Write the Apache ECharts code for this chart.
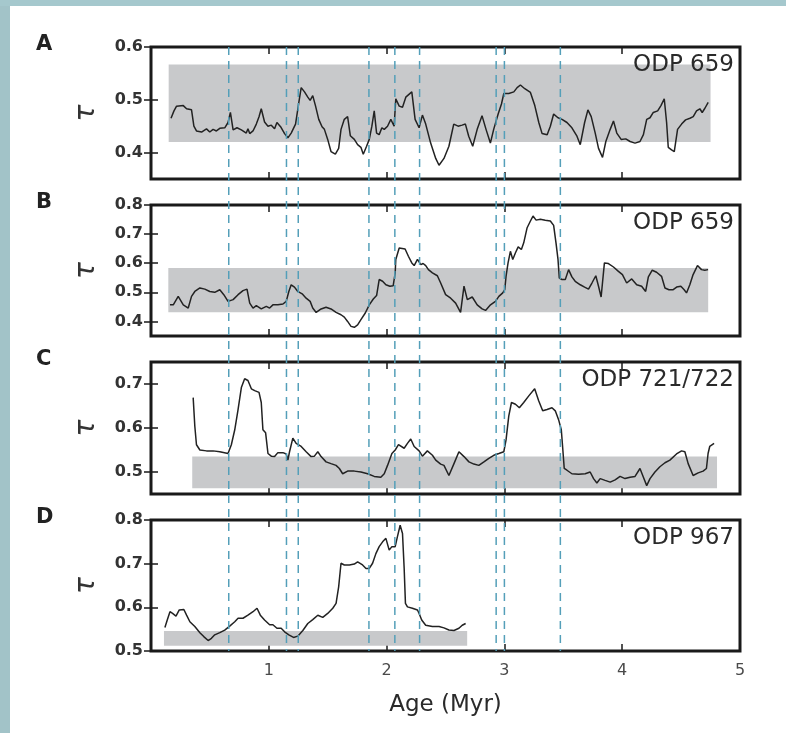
<!DOCTYPE html>
<html>
<head>
<meta charset="utf-8">
<script src="https://cdn.jsdelivr.net/npm/echarts@6/dist/echarts.min.js"></script>
<style>
  html, body { margin: 0; padding: 0; background: #fff; }
  #chart { width: 786px; height: 733px; }
</style>
</head>
<body>
<div id="chart"></div>
<script>
// panel A: ODP 659, age (Myr) / tau
var seriesA = [
  [0.17,0.465],[0.195,0.479],[0.217,0.488],[0.274,0.489],[0.302,0.483],[0.344,0.481],[0.364,0.450],
  [0.386,0.441],[0.429,0.439],[0.471,0.445],[0.499,0.439],[0.527,0.444],[0.555,0.441],[0.584,0.446],
  [0.626,0.447],[0.654,0.457],[0.674,0.476],[0.697,0.443],[0.730,0.447],[0.767,0.443],[0.809,0.437],
  [0.823,0.445],[0.838,0.436],[0.866,0.441],[0.894,0.454],[0.917,0.468],[0.936,0.483],[0.964,0.458],
  [0.993,0.450],[1.021,0.452],[1.049,0.445],[1.069,0.457],[1.100,0.449],[1.134,0.436],[1.162,0.428],
  [1.190,0.437],[1.227,0.454],[1.255,0.495],[1.275,0.523],[1.303,0.515],[1.331,0.505],[1.351,0.499],
  [1.373,0.508],[1.396,0.489],[1.424,0.463],[1.452,0.449],[1.472,0.444],[1.500,0.425],[1.528,0.402],
  [1.565,0.397],[1.593,0.408],[1.613,0.444],[1.641,0.463],[1.669,0.468],[1.692,0.432],[1.726,0.425],
  [1.754,0.415],[1.782,0.410],[1.802,0.397],[1.830,0.412],[1.853,0.425],[1.875,0.450],[1.895,0.479],
  [1.915,0.437],[1.937,0.434],[1.960,0.447],[1.980,0.444],[2.008,0.450],[2.036,0.463],[2.064,0.450],
  [2.078,0.502],[2.107,0.488],[2.135,0.486],[2.163,0.505],[2.214,0.515],[2.242,0.463],[2.276,0.447],
  [2.304,0.471],[2.332,0.454],[2.374,0.418],[2.417,0.389],[2.445,0.376],[2.487,0.389],[2.529,0.412],
  [2.570,0.454],[2.607,0.450],[2.641,0.452],[2.669,0.454],[2.697,0.431],[2.731,0.412],[2.769,0.444],
  [2.810,0.470],[2.844,0.444],[2.881,0.418],[2.909,0.444],[2.947,0.473],[2.975,0.492],[2.995,0.512],
  [3.037,0.512],[3.080,0.515],[3.108,0.523],[3.136,0.528],[3.173,0.521],[3.221,0.514],[3.258,0.489],
  [3.292,0.457],[3.320,0.436],[3.363,0.434],[3.390,0.450],[3.418,0.473],[3.455,0.466],[3.489,0.463],
  [3.531,0.457],[3.573,0.447],[3.616,0.431],[3.644,0.415],[3.681,0.457],[3.709,0.481],[3.737,0.468],
  [3.771,0.437],[3.799,0.408],[3.833,0.391],[3.861,0.421],[3.898,0.444],[3.926,0.460],[3.954,0.437],
  [3.991,0.425],[4.030,0.426],[4.067,0.421],[4.109,0.418],[4.151,0.421],[4.180,0.434],[4.208,0.463],
  [4.236,0.466],[4.264,0.476],[4.301,0.479],[4.329,0.489],[4.357,0.502],[4.377,0.457],[4.391,0.410],
  [4.419,0.405],[4.442,0.402],[4.470,0.444],[4.504,0.454],[4.538,0.462],[4.575,0.465],[4.603,0.468],
  [4.631,0.479],[4.659,0.483],[4.679,0.476],[4.702,0.484],[4.730,0.495]
];

// panel B: ODP 659
var seriesB = [
  [0.161,0.457],[0.189,0.457],[0.231,0.486],[0.274,0.457],[0.316,0.446],[0.344,0.486],[0.372,0.503],
  [0.415,0.515],[0.457,0.511],[0.499,0.503],[0.541,0.500],[0.584,0.509],[0.618,0.492],[0.654,0.469],
  [0.697,0.475],[0.739,0.492],[0.781,0.506],[0.815,0.511],[0.838,0.463],[0.866,0.446],[0.894,0.454],
  [0.936,0.443],[0.979,0.452],[1.007,0.446],[1.035,0.457],[1.077,0.457],[1.120,0.460],[1.148,0.469],
  [1.170,0.503],[1.190,0.526],[1.218,0.518],[1.246,0.503],[1.283,0.495],[1.317,0.480],[1.351,0.469],
  [1.373,0.446],[1.402,0.431],[1.444,0.443],[1.486,0.449],[1.528,0.443],[1.571,0.431],[1.613,0.423],
  [1.641,0.415],[1.669,0.400],[1.698,0.383],[1.726,0.380],[1.754,0.388],[1.782,0.406],[1.819,0.429],
  [1.853,0.457],[1.887,0.477],[1.915,0.489],[1.937,0.544],[1.966,0.538],[1.994,0.526],[2.028,0.521],
  [2.056,0.523],[2.073,0.567],[2.078,0.613],[2.107,0.652],[2.157,0.649],[2.185,0.624],[2.214,0.601],
  [2.234,0.592],[2.262,0.613],[2.290,0.595],[2.310,0.599],[2.332,0.592],[2.355,0.578],[2.389,0.567],
  [2.431,0.557],[2.459,0.532],[2.501,0.492],[2.544,0.480],[2.586,0.463],[2.628,0.431],[2.657,0.521],
  [2.685,0.475],[2.727,0.484],[2.769,0.457],[2.811,0.443],[2.840,0.438],[2.882,0.457],[2.924,0.469],
  [2.953,0.486],[2.986,0.498],[3.003,0.509],[3.014,0.555],[3.031,0.601],[3.051,0.641],[3.071,0.613],
  [3.094,0.636],[3.117,0.656],[3.144,0.647],[3.164,0.670],[3.193,0.722],[3.221,0.745],[3.243,0.762],
  [3.269,0.748],[3.305,0.751],[3.347,0.748],[3.390,0.745],[3.418,0.730],[3.438,0.670],[3.455,0.613],
  [3.466,0.549],[3.489,0.544],[3.517,0.544],[3.545,0.578],[3.573,0.553],[3.601,0.538],[3.644,0.526],
  [3.681,0.518],[3.714,0.511],[3.743,0.532],[3.776,0.557],[3.799,0.521],[3.821,0.484],[3.849,0.601],
  [3.883,0.599],[3.926,0.587],[3.968,0.572],[4.002,0.561],[4.038,0.532],[4.081,0.546],[4.123,0.526],
  [4.165,0.521],[4.199,0.503],[4.222,0.553],[4.255,0.576],[4.292,0.569],[4.334,0.555],[4.363,0.515],
  [4.397,0.509],[4.433,0.509],[4.462,0.518],[4.498,0.521],[4.526,0.509],[4.546,0.498],[4.574,0.526],
  [4.602,0.561],[4.639,0.592],[4.673,0.578],[4.701,0.576],[4.729,0.578]
];

// panel C: ODP 721/722
var seriesC = [
  [0.358,0.669],[0.372,0.604],[0.386,0.562],[0.415,0.550],[0.471,0.548],[0.527,0.548],[0.584,0.546],
  [0.654,0.542],[0.682,0.562],[0.711,0.596],[0.739,0.642],[0.767,0.692],[0.795,0.712],[0.823,0.708],
  [0.852,0.689],[0.880,0.685],[0.917,0.681],[0.936,0.658],[0.950,0.596],[0.973,0.589],[0.993,0.542],
  [1.021,0.536],[1.049,0.535],[1.077,0.544],[1.120,0.544],[1.148,0.541],[1.162,0.527],[1.176,0.546],
  [1.204,0.577],[1.232,0.565],[1.275,0.558],[1.317,0.546],[1.359,0.535],[1.387,0.536],[1.416,0.546],
  [1.444,0.535],[1.486,0.523],[1.528,0.519],[1.571,0.515],[1.599,0.508],[1.627,0.496],[1.669,0.502],
  [1.726,0.502],[1.782,0.500],[1.839,0.496],[1.895,0.490],[1.951,0.488],[1.980,0.496],[2.008,0.515],
  [2.045,0.542],[2.073,0.550],[2.101,0.562],[2.149,0.554],[2.177,0.565],[2.205,0.575],[2.234,0.558],
  [2.276,0.548],[2.304,0.536],[2.346,0.548],[2.389,0.538],[2.417,0.527],[2.459,0.518],[2.487,0.515],
  [2.529,0.492],[2.572,0.519],[2.614,0.546],[2.657,0.535],[2.699,0.523],[2.741,0.518],[2.783,0.515],
  [2.826,0.523],[2.868,0.531],[2.910,0.538],[2.953,0.542],[2.995,0.546],[3.014,0.573],[3.037,0.627],
  [3.060,0.658],[3.094,0.654],[3.127,0.646],[3.164,0.658],[3.207,0.673],[3.257,0.689],[3.291,0.662],
  [3.325,0.639],[3.362,0.642],[3.404,0.646],[3.432,0.639],[3.460,0.619],[3.483,0.596],[3.494,0.558],
  [3.508,0.508],[3.531,0.504],[3.573,0.496],[3.630,0.495],[3.686,0.496],[3.728,0.500],[3.757,0.485],
  [3.785,0.475],[3.813,0.485],[3.855,0.481],[3.898,0.477],[3.940,0.482],[3.982,0.490],[4.024,0.485],
  [4.067,0.488],[4.109,0.490],[4.151,0.508],[4.180,0.488],[4.208,0.469],[4.236,0.485],[4.278,0.500],
  [4.320,0.512],[4.363,0.521],[4.405,0.527],[4.461,0.541],[4.504,0.548],[4.532,0.546],[4.560,0.519],
  [4.602,0.492],[4.645,0.498],[4.687,0.502],[4.715,0.508],[4.729,0.542],[4.743,0.558],[4.780,0.565]
];

// panel D: ODP 967
var seriesD = [
  [0.118,0.554],[0.138,0.571],[0.161,0.590],[0.183,0.586],[0.212,0.580],[0.240,0.594],[0.279,0.595],
  [0.302,0.582],[0.330,0.567],[0.372,0.556],[0.415,0.542],[0.448,0.533],[0.485,0.524],[0.513,0.529],
  [0.541,0.537],[0.584,0.542],[0.626,0.548],[0.668,0.557],[0.711,0.567],[0.739,0.575],[0.781,0.575],
  [0.823,0.582],[0.866,0.590],[0.900,0.598],[0.928,0.582],[0.964,0.571],[1.007,0.560],[1.035,0.560],
  [1.069,0.552],[1.105,0.552],[1.134,0.544],[1.170,0.537],[1.210,0.531],[1.246,0.534],[1.289,0.547],
  [1.331,0.563],[1.373,0.572],[1.416,0.582],[1.458,0.577],[1.500,0.586],[1.543,0.598],[1.571,0.609],
  [1.593,0.647],[1.613,0.701],[1.641,0.697],[1.684,0.697],[1.726,0.699],[1.754,0.704],[1.796,0.697],
  [1.825,0.689],[1.853,0.689],[1.881,0.701],[1.909,0.723],[1.937,0.739],[1.966,0.750],[1.994,0.758],
  [2.008,0.754],[2.022,0.731],[2.045,0.739],[2.073,0.739],[2.092,0.762],[2.115,0.788],[2.135,0.769],
  [2.149,0.690],[2.160,0.609],[2.177,0.601],[2.219,0.598],[2.262,0.594],[2.276,0.586],[2.298,0.571],
  [2.332,0.559],[2.389,0.556],[2.445,0.556],[2.487,0.553],[2.529,0.548],[2.572,0.547],[2.614,0.552],
  [2.642,0.559],[2.671,0.563]
];

var panelData = [seriesA, seriesB, seriesC, seriesD];
var panelLetters = ['A', 'B', 'C', 'D'];
var panelSites = ['ODP 659', 'ODP 659', 'ODP 721/722', 'ODP 967'];
// grey bands: [ageStart, ageEnd, tauLow, tauHigh]
var bands = [
  [0.15, 4.75, 0.420, 0.567],
  [0.147, 4.73, 0.432, 0.584],
  [0.35, 4.805, 0.463, 0.535],
  [0.11, 2.684, 0.512, 0.546]
];
var yRanges = [[0.35, 0.6], [0.35, 0.8], [0.45, 0.75], [0.5, 0.8]];
var yTicks = [[0.4, 0.5, 0.6], [0.4, 0.5, 0.6, 0.7, 0.8], [0.5, 0.6, 0.7], [0.5, 0.6, 0.7, 0.8]];
var xTicks = [0, 1, 2, 3, 4, 5];
var xLabels = [1, 2, 3, 4, 5];
// dashed event lines (Myr)
var events = [0.66, 1.15, 1.25, 1.85, 2.07, 2.28, 2.93, 3.0, 3.475];

var FONT = 'DejaVu Sans';
var INK = '#1a1a1a';
var layout = [
  { top: 47, height: 132 },
  { top: 205, height: 131 },
  { top: 362, height: 132 },
  { top: 520, height: 131 }
];
var LEFT = 151, WIDTH = 589;

var grids = [], xAxes = [], yAxes = [], series = [], graphics = [];

graphics.push({ type: 'rect', shape: { x: 0, y: 0, width: 10, height: 733 }, style: { fill: '#a2c3c8' }, z: -10 });
graphics.push({ type: 'rect', shape: { x: 0, y: 0, width: 786, height: 6 }, style: { fill: '#a5c8cd' }, z: -10 });

layout.forEach(function (l, i) {
  grids.push({
    left: LEFT, top: l.top, width: WIDTH, height: l.height,
    show: true, borderColor: INK, borderWidth: 3, backgroundColor: 'transparent'
  });
  var last = i === layout.length - 1;
  var tick = { show: true, inside: true, length: 7, customValues: xTicks, lineStyle: { color: INK, width: 1.5 } };
  xAxes.push({
    type: 'value', gridIndex: i, min: 0, max: 5, position: 'bottom',
    axisLine: { show: false }, splitLine: { show: false }, axisTick: tick,
    axisLabel: {
      show: last, customValues: xLabels, margin: 12, color: '#4a4a4a',
      fontFamily: FONT, fontSize: 16
    },
    name: last ? 'Age (Myr)' : '', nameLocation: 'middle', nameGap: 43,
    nameTextStyle: { fontFamily: FONT, fontSize: 23, color: '#2a2a2a' }
  });
  xAxes.push({
    type: 'value', gridIndex: i, min: 0, max: 5, position: 'top',
    axisLine: { show: false }, splitLine: { show: false }, axisTick: tick,
    axisLabel: { show: false }
  });
  var ytick = { show: true, inside: true, length: 7, customValues: yTicks[i], lineStyle: { color: INK, width: 1.5 } };
  yAxes.push({
    type: 'value', gridIndex: i, min: yRanges[i][0], max: yRanges[i][1], position: 'left',
    axisLine: { show: false }, splitLine: { show: false }, axisTick: ytick,
    axisLabel: {
      customValues: yTicks[i], margin: 8, color: '#333', fontFamily: FONT,
      fontSize: 16, fontWeight: 'bold',
      formatter: function (v) { return v.toFixed(1); }
    },
    name: 'τ', nameLocation: 'middle', nameRotate: 90, nameGap: 50,
    nameTextStyle: { fontFamily: FONT, fontStyle: 'italic', fontSize: 28, color: '#333' }
  });
  yAxes.push({
    type: 'value', gridIndex: i, min: yRanges[i][0], max: yRanges[i][1], position: 'right',
    axisLine: { show: false }, splitLine: { show: false }, axisTick: ytick,
    axisLabel: { show: false }
  });

  var b = bands[i];
  series.push({
    type: 'line', xAxisIndex: 2 * i, yAxisIndex: 2 * i, data: [], z: 1, silent: true,
    markArea: {
      silent: true,
      itemStyle: { color: '#c8c9cb' },
      data: [[{ coord: [b[0], b[3]] }, { coord: [b[1], b[2]] }]]
    }
  });
  series.push({
    type: 'line', xAxisIndex: 2 * i, yAxisIndex: 2 * i, data: panelData[i], z: 3,
    symbol: 'none', smooth: false, silent: true,
    lineStyle: { color: '#222', width: 1.5 }
  });

  graphics.push({
    type: 'text', z: 10,
    style: { x: 36, y: l.top - 2, text: panelLetters[i], align: 'left', verticalAlign: 'middle',
      font: 'bold 21px "DejaVu Sans"', fill: '#222' }
  });
  graphics.push({
    type: 'text', z: 10,
    style: { x: 734, y: l.top + 18, text: panelSites[i], align: 'right', verticalAlign: 'middle',
      font: '23px "DejaVu Sans"', fill: '#2a2a2a' }
  });
});

// overlay grid spanning all panels for the dashed event lines
var ov = layout.length;
grids.push({ left: LEFT, top: 47, width: WIDTH, height: 604, show: false });
xAxes.push({ type: 'value', gridIndex: ov, min: 0, max: 5, show: false });
yAxes.push({ type: 'value', gridIndex: ov, min: 0, max: 1, show: false });
events.forEach(function (e) {
  series.push({
    type: 'line', xAxisIndex: xAxes.length - 1, yAxisIndex: yAxes.length - 1,
    data: [[e, 1], [e, 0]], symbol: 'none', z: 5, silent: true,
    lineStyle: { color: '#549fb9', width: 1.5, type: [8, 6] }
  });
});

var chart = echarts.init(document.getElementById('chart'), null, { renderer: 'canvas' });
chart.setOption({
  animation: false,
  backgroundColor: '#ffffff',
  grid: grids,
  xAxis: xAxes,
  yAxis: yAxes,
  series: series,
  graphic: graphics
});
</script>
</body>
</html>
